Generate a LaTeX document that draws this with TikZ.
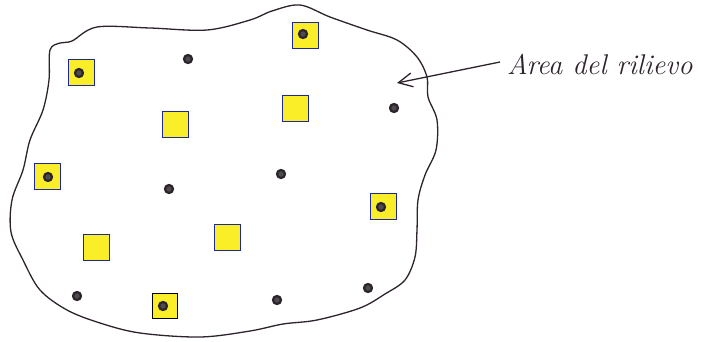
\documentclass[tikz,border=0pt]{standalone}
\usetikzlibrary{arrows.meta}
\definecolor{hlyellow}{RGB}{250,238,40}
\definecolor{penblue}{RGB}{30,40,150}
\definecolor{penblack}{RGB}{45,35,45}
\begin{document}
\begin{tikzpicture}[x=1pt,y=-1pt,
  sq/.style={draw=penblue,fill=hlyellow,line width=0.9pt,minimum size=26pt,inner sep=0pt},
  sqb/.style={draw=black,fill=hlyellow,line width=1.8pt,minimum size=25pt,inner sep=0pt},
  pt/.style={circle,draw=penblack,fill=black!70,line width=2.2pt,minimum size=8pt,inner sep=0pt},
  outline/.style={draw=penblack,line width=1.3pt},
  lbl/.style={font=\itshape\fontsize{28.5}{31}\selectfont,text=penblack,inner sep=0pt}]
\useasboundingbox (0,0) rectangle (701,341);
% area outline
\draw[outline] plot[smooth cycle,tension=0.55] coordinates{
 (50,50) (60,43) (72,41) (97,27) (150,28) (207,30) (250,20) (272,11) (300,5) (330,17) (367,30) (397,40) (417,57) (427,77) (428,97) (437,120) (436,150) (425,175) (418,200) (417,230) (415,257) (405,280) (385,294) (360,308) (317,320) (283,324) (250,331) (200,337) (140,333) (100,323) (67,310) (40,290) (23,260) (11,232) (12,200) (23,170) (30,140) (43,110) (49,80)};
% squares
\node[sq] (s1) at (81,72) {};
\node[sq] (s2) at (175,124) {};
\node[sq] (s3) at (305,35) {};
\node[sq] (s4) at (295,108) {};
\node[sq] (s5) at (47,176) {};
\node[sq] (s6) at (96,247) {};
\node[sq] (s7) at (227,237) {};
\node[sqb] (s8) at (165,306) {};
\node[sq] (s9) at (383,206) {};
% dots
\node[pt] (d1) at (79,73) {};
\node[pt] (d2) at (303,34) {};
\node[pt] (d3) at (48,177) {};
\node[pt] (d4) at (163,306) {};
\node[pt] (d5) at (381,207) {};
\node[pt] (d6) at (188,59) {};
\node[pt] (d7) at (394,108) {};
\node[pt] (d8) at (169,189) {};
\node[pt] (d9) at (281,174) {};
\node[pt] (d10) at (77,296) {};
\node[pt] (d11) at (277,300) {};
\node[pt] (d12) at (368,288) {};
% label and arrow
\node[lbl,anchor=west] (lab) at (507,64) {Area del rilievo};
\coordinate (tip) at (397,83);
\draw[penblack,line width=1.3pt,-{Straight Barb[length=14pt,width=14pt]}] (lab.west) ++(-7,-2) -- (tip);
\end{tikzpicture}
\end{document}
